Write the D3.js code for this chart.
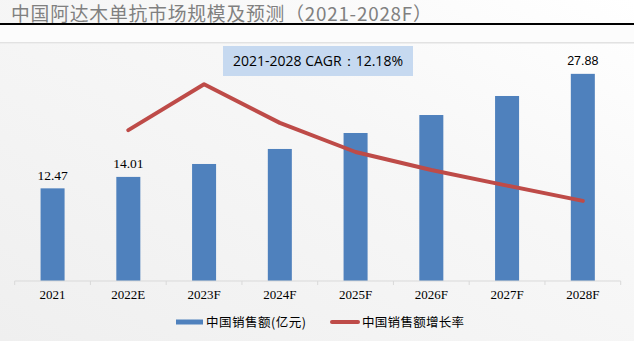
<!DOCTYPE html>
<html><head><meta charset="utf-8">
<script src="https://cdn.jsdelivr.net/npm/d3@7"></script>
<style>html,body{margin:0;padding:0;background:#fff;}svg{display:block;}</style>
</head><body>
<script>
const categories = ["2021","2022E","2023F","2024F","2025F","2026F","2027F","2028F"];
const salesValues = [12.47, 14.01, 15.75, 17.77, 19.92, 22.34, 24.9, 27.88];
const growthRates = [null, 13.03, 14.56, 13.27, 12.3, 11.7, 11.18, 10.67];
const shownLabels = ["12.47", "14.01", null, null, null, null, null, "27.88"];
const titleText = "中国阿达木单抗市场规模及预测（2021-2028F）";
const cagrText = "2021-2028 CAGR：12.18%";
const legendLabels = ["中国销售额(亿元)", "中国销售额增长率"];

const W = 634, H = 341;
const svg = d3.select("body").append("svg").attr("width", W).attr("height", H);
const defs = svg.append("defs");
const g = defs.append("linearGradient").attr("id","bg").attr("x1","0").attr("y1","1").attr("x2","1").attr("y2","0");
g.append("stop").attr("offset","0").attr("stop-color","#efefef");
g.append("stop").attr("offset","0.6").attr("stop-color","#f7f7f7");
g.append("stop").attr("offset","1").attr("stop-color","#ffffff");
svg.append("rect").attr("width",W).attr("height",H).attr("fill","url(#bg)");

// title
svg.append("text").attr("x",11).attr("y",20.5).attr("fill","#808080")
  .attr("font-family","'Noto Sans CJK SC', sans-serif").attr("font-size",18.8)
  .attr("letter-spacing",0.8).text(titleText);
svg.append("line").attr("x1",0).attr("x2",W).attr("y1",24).attr("y2",24).attr("stroke","#000").attr("stroke-width",2);
svg.append("rect").attr("x",0).attr("y",25).attr("width",W).attr("height",17).attr("fill","#fcfcfc");
svg.append("line").attr("x1",0).attr("x2",W).attr("y1",42.5).attr("y2",42.5).attr("stroke","#e2e2e2").attr("stroke-width",1);
svg.append("line").attr("x1",0).attr("x2",W).attr("y1",43.5).attr("y2",43.5).attr("stroke","#eeeeee").attr("stroke-width",1);

const x = d3.scaleBand().domain(categories).range([14.7, 620.7]).paddingInner(0.683).paddingOuter(0.683/2);
const y = d3.scaleLinear().domain([0, 30]).range([281, 58.1]);
const y2 = d3.scaleLinear().domain([8, 16]).range([281, 41]);

// CAGR box
svg.append("rect").attr("x",223).attr("y",46).attr("width",190).attr("height",30).attr("fill","#c6d9f0");
svg.append("text").attr("x",318).attr("y",66).attr("text-anchor","middle").attr("fill","#000")
  .attr("font-family","'Open Sans', sans-serif").attr("font-size",14).text(cagrText);

// bars
svg.append("g").selectAll("rect").data(salesValues).join("rect")
  .attr("x",(d,i)=>x(categories[i])).attr("width",x.bandwidth())
  .attr("y",d=>y(d)).attr("height",d=>y(0)-y(d)).attr("fill","#4f81bd");

// data labels
svg.append("g").selectAll("text").data(shownLabels.map((t,i)=>({t,i})).filter(d=>d.t)).join("text")
  .attr("x",d=>x(categories[d.i])+x.bandwidth()/2)
  .attr("y",d=>y(salesValues[d.i])-8.5)
  .attr("text-anchor","middle").attr("fill","#000")
  .attr("font-family",d=>d.i===7?"'Liberation Sans', sans-serif":"'Liberation Serif', serif")
  .attr("font-size",d=>d.i===7?12.5:13.5)
  .text(d=>d.t);

// axis
const axis = svg.append("g").attr("transform","translate(0,281)");
axis.append("line").attr("x1",x.range()[0]).attr("x2",x.range()[1]).attr("stroke","#d9d9d9");
const step = x.step();
axis.selectAll("line.tk").data(d3.range(categories.length+1)).join("line").attr("class","tk")
  .attr("x1",i=>x.range()[0]+i*step).attr("x2",i=>x.range()[0]+i*step)
  .attr("y1",0).attr("y2",4).attr("stroke","#d9d9d9");
axis.selectAll("text").data(categories).join("text")
  .attr("x",c=>x(c)+x.bandwidth()/2).attr("y",18).attr("text-anchor","middle")
  .attr("font-family","'Liberation Serif', serif").attr("font-size",13).attr("fill","#000").text(c=>c);

// growth line
const line = d3.line().defined(d=>d.v!=null).x(d=>x(d.c)+x.bandwidth()/2).y(d=>y2(d.v));
svg.append("path").datum(categories.map((c,i)=>({c, v: growthRates[i]})))
  .attr("d", line).attr("fill","none").attr("stroke","#be4b48").attr("stroke-width",4)
  .attr("stroke-linecap","round").attr("stroke-linejoin","round");

// legend
const lg = svg.append("g");
lg.append("rect").attr("x",176).attr("y",319.5).attr("width",27).attr("height",5).attr("fill","#4f81bd");
lg.append("text").attr("x",206).attr("y",327).attr("font-family","'Noto Sans CJK SC', sans-serif")
  .attr("font-size",12.5).attr("letter-spacing",0.5).attr("fill","#000").text(legendLabels[0]);
lg.append("line").attr("x1",332).attr("x2",358).attr("y1",322).attr("y2",322).attr("stroke","#be4b48")
  .attr("stroke-width",4).attr("stroke-linecap","round");
lg.append("text").attr("x",362).attr("y",327).attr("font-family","'Noto Sans CJK SC', sans-serif")
  .attr("font-size",12.5).attr("letter-spacing",0.3).attr("fill","#000").text(legendLabels[1]);
</script>
</body></html>
